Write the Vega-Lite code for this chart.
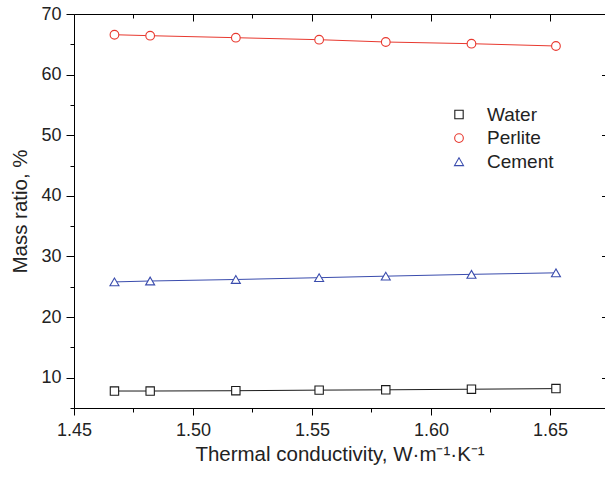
{
  "$schema": "https://vega.github.io/schema/vega-lite/v6.json",
  "width": 531,
  "height": 394,
  "autosize": {"type": "none"},
  "padding": {"left": 74, "top": 14, "right": 0, "bottom": 70},
  "config": {
    "view": {"stroke": null},
    "font": "Liberation Sans",
    "axis": {"domainColor": "#000", "tickColor": "#000", "labelColor": "#222", "titleColor": "#222", "grid": false, "labelFont": "Liberation Sans", "titleFont": "Liberation Sans", "titleFontWeight": "normal", "labelFontSize": 18, "titleFontSize": 20.5}
  },
  "data": {
    "values": [
      {"k": 1.467, "series": "Water", "ratio": 7.8},
      {"k": 1.482, "series": "Water", "ratio": 7.8},
      {"k": 1.518, "series": "Water", "ratio": 7.85},
      {"k": 1.553, "series": "Water", "ratio": 7.95},
      {"k": 1.581, "series": "Water", "ratio": 8.0},
      {"k": 1.617, "series": "Water", "ratio": 8.1},
      {"k": 1.6525, "series": "Water", "ratio": 8.2},
      {"k": 1.467, "series": "Perlite", "ratio": 66.58},
      {"k": 1.482, "series": "Perlite", "ratio": 66.42},
      {"k": 1.518, "series": "Perlite", "ratio": 66.09},
      {"k": 1.553, "series": "Perlite", "ratio": 65.76},
      {"k": 1.581, "series": "Perlite", "ratio": 65.38},
      {"k": 1.617, "series": "Perlite", "ratio": 65.1},
      {"k": 1.6525, "series": "Perlite", "ratio": 64.72},
      {"k": 1.467, "series": "Cement", "ratio": 25.8},
      {"k": 1.482, "series": "Cement", "ratio": 25.95},
      {"k": 1.518, "series": "Cement", "ratio": 26.2},
      {"k": 1.553, "series": "Cement", "ratio": 26.5},
      {"k": 1.581, "series": "Cement", "ratio": 26.75},
      {"k": 1.617, "series": "Cement", "ratio": 27.05},
      {"k": 1.6525, "series": "Cement", "ratio": 27.3}
    ]
  },
  "layer": [
    {
      "mark": {"type": "line", "strokeWidth": 1},
      "encoding": {
        "x": {"field": "k", "type": "quantitative", "scale": {"domain": [1.45, 1.67311], "nice": false, "zero": false},
          "axis": {"orient": "bottom", "title": "Thermal conductivity, W·m⁻¹·K⁻¹", "values": [1.45, 1.475, 1.5, 1.525, 1.55, 1.575, 1.6, 1.625, 1.65],
            "tickSize": {"condition": {"test": "round(datum.value*100) % 5 === 0", "value": 7}, "value": 4},
            "labelExpr": "round(datum.value*100) % 5 === 0 ? format(datum.value, '.2f') : ''",
            "labelPadding": 6, "titlePadding": 5, "labelFlush": false}},
        "y": {"field": "ratio", "type": "quantitative", "scale": {"domain": [5, 70], "nice": false, "zero": false},
          "axis": {"orient": "left", "title": "Mass ratio, %", "values": [5, 10, 15, 20, 25, 30, 35, 40, 45, 50, 55, 60, 65, 70],
            "tickSize": {"condition": {"test": "datum.value % 10 === 0", "value": 8}, "value": 4},
            "labelExpr": "datum.value % 10 === 0 ? datum.label : ''",
            "labelPadding": 5, "titlePadding": 10, "labelFlush": false}},
        "stroke": {"field": "series", "type": "nominal", "sort": ["Water", "Perlite", "Cement"],
          "scale": {"domain": ["Water", "Perlite", "Cement"], "range": ["#1a1a1a", "#e8392f", "#3a4cad"]},
          "legend": {
            "orient": "none", "legendX": 375.5, "legendY": 91, "title": null, "padding": 0,
            "symbolSize": 400, "symbolStrokeWidth": 1.1, "symbolFillColor": "white",
            "labelFont": "Liberation Sans", "labelFontSize": 19, "labelColor": "#222", "labelOffset": 18.5, "rowPadding": 3.6,
            "encode": {"symbols": {"update": {
              "shape": {"value": {"expr": "datum.value === 'Water' ? 'M-2.2,0H-0.45M0.45,0H2.2M-0.45,-0.45H0.45V0.45H-0.45Z' : datum.value === 'Perlite' ? 'M-2.2,0H-0.5M0.5,0H2.2M-0.5,0A0.5,0.5,0,1,0,0.5,0A0.5,0.5,0,1,0,-0.5,0Z' : 'M-2.2,0H-0.63M0.63,0H2.2M0,-0.63L0.63,0.37H-0.63Z'"}},
              "size": {"value": 400},
              "fill": {"value": "white"}
            }}}
          }}
      }
    },
    {
      "mark": {"type": "point", "filled": false, "fill": "white", "fillOpacity": 1, "strokeWidth": 1.1, "opacity": 1},
      "encoding": {
        "x": {"field": "k", "type": "quantitative",
          "axis": {"orient": "top", "title": null, "labels": false, "values": [1.45, 1.475, 1.5, 1.525, 1.55, 1.575, 1.6, 1.625, 1.65],
            "tickSize": {"condition": {"test": "round(datum.value*100) % 5 === 0", "value": -7}, "value": -4}}},
        "y": {"field": "ratio", "type": "quantitative",
          "axis": {"orient": "right", "title": null, "labels": false, "offset": 4.5, "values": [5, 10, 15, 20, 25, 30, 35, 40, 45, 50, 55, 60, 65, 70],
            "tickSize": {"condition": {"test": "datum.value % 10 === 0", "value": -8}, "value": -4}}},
        "stroke": {"field": "series", "type": "nominal",
          "legend": {
            "orient": "none", "legendX": 375.5, "legendY": 91, "title": null, "padding": 0,
            "symbolSize": 400, "symbolStrokeWidth": 1.1, "symbolFillColor": "white",
            "labelFont": "Liberation Sans", "labelFontSize": 19, "labelColor": "#222", "labelOffset": 18.5, "rowPadding": 3.6,
            "encode": {"symbols": {"update": {
              "shape": {"value": {"expr": "datum.value === 'Water' ? 'M-2.2,0H-0.45M0.45,0H2.2M-0.45,-0.45H0.45V0.45H-0.45Z' : datum.value === 'Perlite' ? 'M-2.2,0H-0.5M0.5,0H2.2M-0.5,0A0.5,0.5,0,1,0,0.5,0A0.5,0.5,0,1,0,-0.5,0Z' : 'M-2.2,0H-0.63M0.63,0H2.2M0,-0.63L0.63,0.37H-0.63Z'"}},
              "size": {"value": 400},
              "fill": {"value": "white"}
            }}}
          }},
        "shape": {"field": "series", "type": "nominal", "scale": {"domain": ["Water", "Perlite", "Cement"], "range": ["square", "circle", "triangle-up"]}, "legend": null},
        "size": {"field": "series", "type": "nominal", "scale": {"domain": ["Water", "Perlite", "Cement"], "range": [70, 81, 121]}, "legend": null}
      }
    }
  ],
  "resolve": {"axis": {"x": "independent", "y": "independent"}}
}
